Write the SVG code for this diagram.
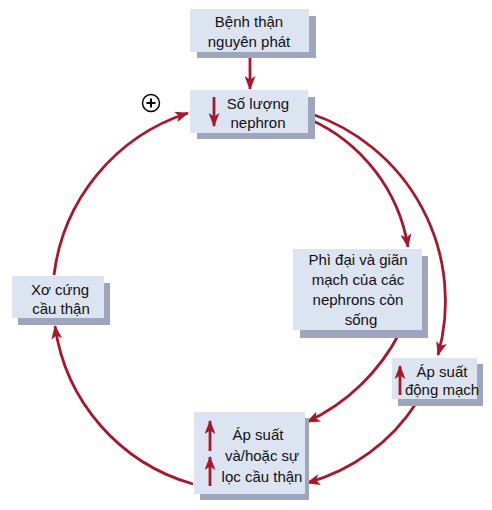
<svg xmlns="http://www.w3.org/2000/svg" width="492" height="510" viewBox="0 0 492 510">
<defs>
<style>
.sh{fill:#9ea6bd}
.bx{fill:#dde4f1}
.t{font-family:"Liberation Sans",Arial,sans-serif;font-size:15px;fill:#111;text-anchor:middle}
.c{fill:none;stroke:#a8182c;stroke-width:2.8}
</style>
<marker id="ah" viewBox="0 0 14 11" markerWidth="14" markerHeight="11" refX="13" refY="5.5" orient="auto" markerUnits="userSpaceOnUse">
<path d="M0,0 L14,5.5 L0,11 L3.5,5.5 z" fill="#a8182c"/>
</marker>
</defs>
<rect width="492" height="510" fill="#fff"/>
<g id="connectors">
<line class="c" x1="250" y1="53" x2="250" y2="89" marker-end="url(#ah)"/>
<path class="c" d="M309,113 A198,198 0 0 1 438,355" marker-end="url(#ah)"/>
<path class="c" d="M309,119 A170,170 0 0 1 408,247" marker-end="url(#ah)"/>
<path class="c" d="M400,332 A200,200 0 0 1 307,422" marker-end="url(#ah)"/>
<path class="c" d="M417,402 A190,190 0 0 1 307,483" marker-end="url(#ah)"/>
<path class="c" d="M193,484 A192,192 0 0 1 55,326" marker-end="url(#ah)"/>
<path class="c" d="M54,275 A195,195 0 0 1 188,113" marker-end="url(#ah)"/>
</g>
<g id="plus">
<circle cx="151" cy="103" r="8.5" fill="#fff" stroke="#000" stroke-width="1.5"/>
<path d="M146.5,103 H155.5 M151,98.5 V107.5" stroke="#000" stroke-width="2"/>
</g>
<g id="n1">
<rect class="sh" x="197" y="16" width="119" height="42"/>
<rect class="bx" x="190" y="9" width="119" height="43"/>
<text class="t" x="249" y="27">Bệnh thận</text>
<text class="t" x="249" y="47">nguyên phát</text>
</g>
<g id="n2">
<rect class="sh" x="197" y="97" width="118" height="42"/>
<rect class="bx" x="190" y="90" width="118" height="43"/>
<line class="c" x1="214" y1="97" x2="214" y2="126" marker-end="url(#ah)"/>
<text class="t" x="258" y="109">Số lượng</text>
<text class="t" x="258" y="128">nephron</text>
</g>
<g id="n3">
<rect class="sh" x="300" y="256" width="128" height="82"/>
<rect class="bx" x="293" y="249" width="129" height="81"/>
<text class="t" x="358" y="265">Phì đại và giãn</text>
<text class="t" x="358" y="285">mạch của các</text>
<text class="t" x="358" y="305">nephrons còn</text>
<text class="t" x="361" y="325">sống</text>
</g>
<g id="n4">
<rect class="sh" x="398" y="364" width="85" height="42"/>
<rect class="bx" x="392" y="358" width="85" height="41"/>
<line class="c" x1="400" y1="395" x2="400" y2="366" marker-end="url(#ah)"/>
<text class="t" x="442" y="377">Áp suất</text>
<text class="t" x="442" y="395">động mạch</text>
</g>
<g id="n5">
<rect class="sh" x="200" y="418" width="109" height="82"/>
<rect class="bx" x="194" y="412" width="111" height="82"/>
<line class="c" x1="210" y1="451" x2="210" y2="421" marker-end="url(#ah)"/>
<line class="c" x1="210" y1="486" x2="210" y2="457" marker-end="url(#ah)"/>
<text class="t" x="258" y="440">Áp suất</text>
<text class="t" x="262" y="461">và/hoặc sự</text>
<text class="t" x="262" y="482">lọc cầu thận</text>
</g>
<g id="n6">
<rect class="sh" x="18" y="283" width="92" height="42"/>
<rect class="bx" x="12" y="276" width="92" height="42"/>
<text class="t" x="60" y="295">Xơ cứng</text>
<text class="t" x="61" y="314">cầu thận</text>
</g>
</svg>
